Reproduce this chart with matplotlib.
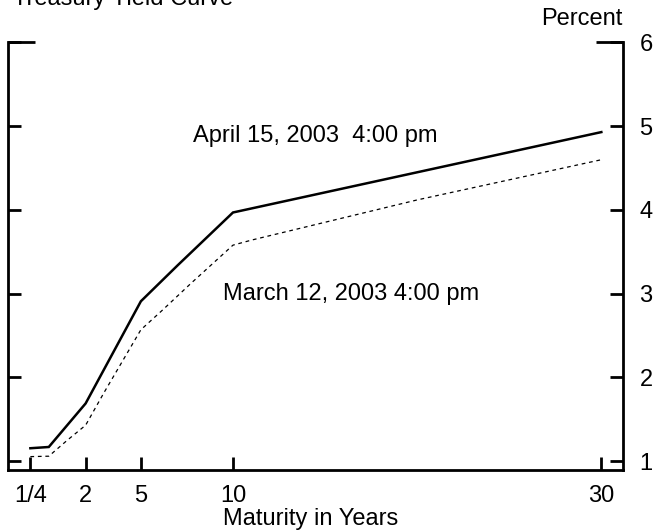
import numpy as np
import matplotlib
matplotlib.use("Agg")
import matplotlib.pyplot as plt

plt.rcParams['font.family'] = ['Liberation Sans', 'DejaVu Sans']

# maturities in years
maturity = [0.25, 0.5, 2, 5, 7, 10, 30]
april_15 = [1.155, 1.17, 1.69, 2.91, 3.34, 3.97, 4.93]

maturity_mar = [0.25, 0.5, 1.25, 2, 3, 5, 6.2, 7.7, 9, 10, 11, 20, 30]
march_12 = [1.055, 1.06, 1.25, 1.43, 1.82, 2.57, 2.81, 3.12, 3.38, 3.58, 3.64, 4.12, 4.6]

tick_vals = [0.25, 2, 5, 10, 30]
tick_labels = ['1/4', '2', '5', '10', '30']
y_ticks = [1, 2, 3, 4, 5, 6]

# the short end of the axis is stretched (1/4 and 1/2 get their own slots)
mat_knots = [-1, 0.25, 0.5, 2, 100]
pos_knots = [-6, -1, 0, 2, 100]

def fwd(x):
    return np.interp(x, mat_knots, pos_knots)

def inv(x):
    return np.interp(x, pos_knots, mat_knots)

FS = 17

fig = plt.figure(figsize=(6.55, 5.31), dpi=100)
ax = fig.add_axes([0.0115, 0.115, 0.9392, 0.805])
ax.set_xscale('function', functions=(fwd, inv))

ax.plot(maturity, april_15, color='black', lw=1.8, solid_joinstyle='miter')
ax.plot(maturity_mar, march_12, color='black', lw=0.9, linestyle=(0, (3, 3)))

ax.set_xlim(-0.06, 31.16)
ax.set_ylim(0.896, 6.0)

ax.spines['top'].set_visible(False)
for s in ['left', 'right', 'bottom']:
    ax.spines[s].set_linewidth(2.0)

ax.set_xticks(tick_vals)
ax.set_xticklabels(tick_labels)
ax.set_yticks(y_ticks)
ax.xaxis.set_minor_locator(plt.NullLocator())
ax.tick_params(axis='x', direction='in', length=9.5, width=2.0, pad=11, labelsize=FS)
ax.tick_params(axis='y', direction='in', length=9.5, width=2.0, pad=12, labelsize=FS,
               left=True, right=True, labelleft=False, labelright=True)

# top corner stubs
ax.plot([0, 0.044], [1, 1], transform=ax.transAxes, color='black', lw=2.0,
        clip_on=False, solid_capstyle='butt')
ax.plot([0.956, 1], [1, 1], transform=ax.transAxes, color='black', lw=2.0,
        clip_on=False, solid_capstyle='butt')

trans = ax.get_yaxis_transform()
ax.text(0.301, 4.814, 'April 15, 2003  4:00 pm', fontsize=FS, ha='left',
        va='baseline', transform=trans)
ax.text(0.350, 2.925, 'March 12, 2003 4:00 pm', fontsize=FS, ha='left',
        va='baseline', transform=trans)

fig.text(0.3405, 0.0113, 'Maturity in Years', fontsize=FS, ha='left', va='baseline')
fig.text(0.02, 0.9906, 'Treasury Yield Curve', fontsize=FS, ha='left', va='baseline')
fig.text(0.951, 0.953, 'Percent', fontsize=FS, ha='right', va='baseline')

fig.savefig('out.png', dpi=100)
